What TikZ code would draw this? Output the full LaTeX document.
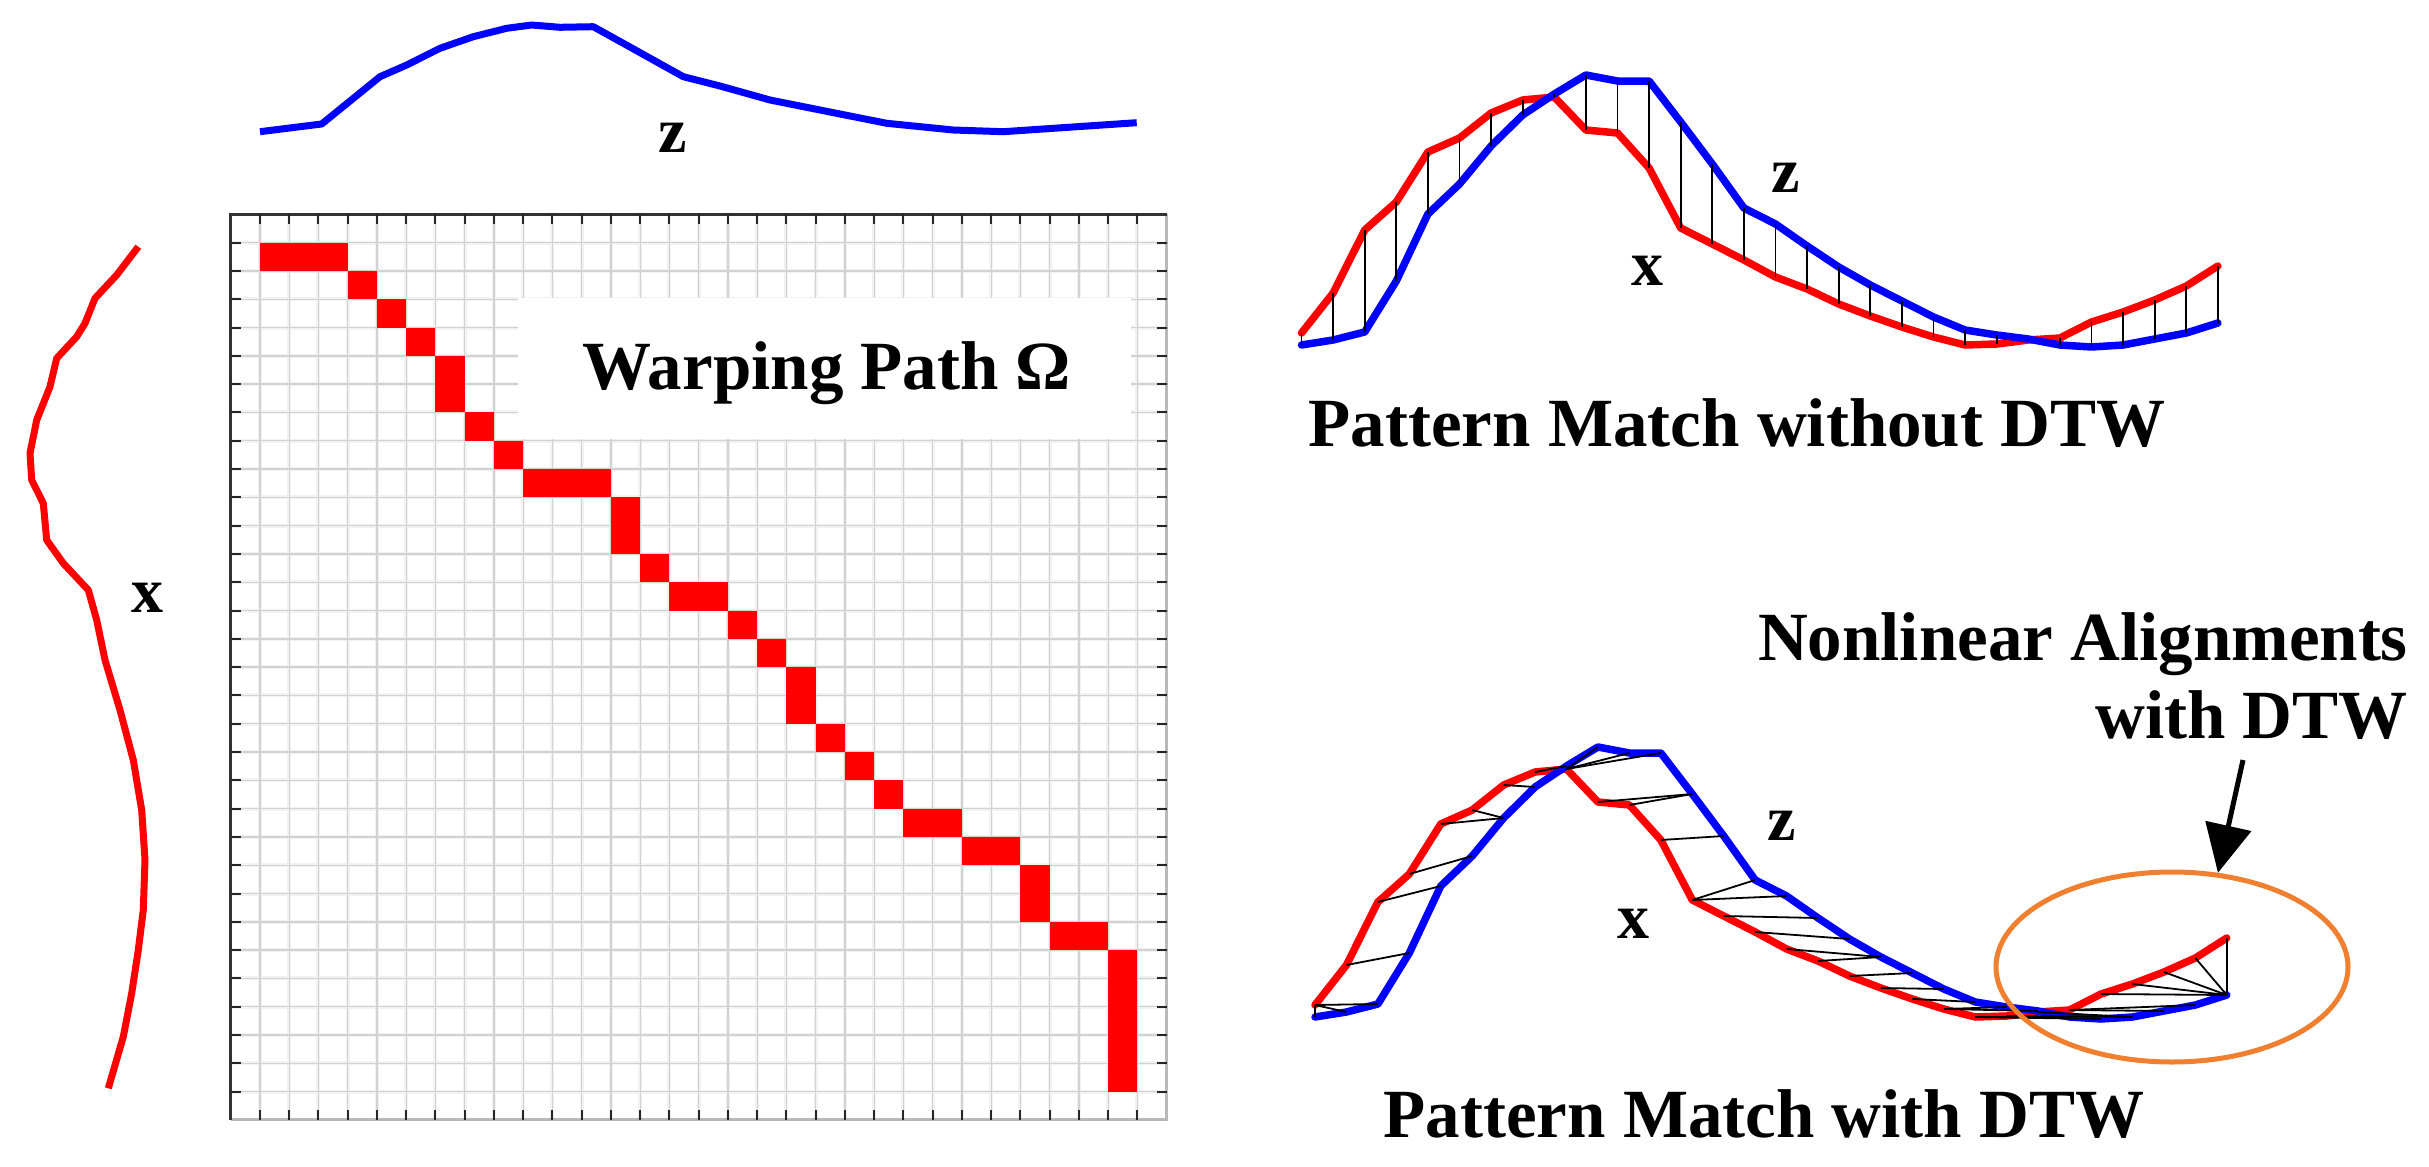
\documentclass[tikz,border=0pt]{standalone}
\usepackage{fontspec}
\setmainfont{Liberation Serif}
\usetikzlibrary{arrows.meta,shapes.geometric}
\definecolor{ored}{RGB}{255,0,0}
\definecolor{oblue}{RGB}{0,0,255}
\definecolor{oorange}{RGB}{240,128,48}
\begin{document}
\begin{tikzpicture}[x=1pt,y=-1pt,
  curve/.style={line width=7.5pt, line join=round, line cap=round},
  redc/.style={curve, draw=ored},
  bluec/.style={curve, draw=oblue},
  sidec/.style={line width=7pt, line join=round, line cap=butt},
  alignln/.style={line width=1.8pt, draw=black},
  lbl/.style={font=\fontsize{69}{78}\selectfont\bfseries, inner sep=0pt},
  slbl/.style={font=\fontsize{64}{72}\selectfont\bfseries, inner sep=0pt},
  tickln/.style={line width=2pt, draw=black!85},
  gridband/.style={line width=4pt, draw=gray!10},
  gridln/.style={line width=1.4pt, draw=gray!35}
  ]
\useasboundingbox (0,0) rectangle (2429,1167);
\fill[white] (0,0) rectangle (2429,1167);

% ---------- grid ----------
\def\gx{230.7}\def\gy{214.3}\def\cw{29.25}\def\ch{28.3}
\def\gw{936}\def\gh{905.6}
\foreach \k in {1,...,31} {
  \draw[gridband] ({\gx+\k*\cw},{\gy}) -- ++(0,\gh);
  \draw[gridband] ({\gx},{\gy+\k*\ch}) -- ++(\gw,0);
}
\foreach \k in {1,...,31} {
  \draw[gridln] ({\gx+\k*\cw},{\gy}) -- ++(0,\gh);
  \draw[gridln] ({\gx},{\gy+\k*\ch}) -- ++(\gw,0);
}

% ---------- warping path cells (row / first col / last col) ----------
\def\pathcells{1/1/3, 2/4/4, 3/5/5, 4/6/6, 5/7/7, 6/7/7, 7/8/8, 8/9/9, 9/10/12, 10/13/13, 11/13/13, 12/14/14, 13/15/16, 14/17/17, 15/18/18, 16/19/19, 17/19/19, 18/20/20, 19/21/21, 20/22/22, 21/23/24, 22/25/26, 23/27/27, 24/27/27, 25/28/29, 26/30/30, 27/30/30, 28/30/30, 29/30/30, 30/30/30}
\foreach \r/\ca/\cb in \pathcells {
  \fill[ored] ({\gx+\ca*\cw},{\gy+\r*\ch}) rectangle ({\gx+(\cb+1)*\cw},{\gy+(\r+1)*\ch});
}

% ---------- label box ----------
\node[fill=white, minimum width=613pt, minimum height=141pt, inner sep=0pt] (wbox) at (824.5,368.5) {};
\node[lbl, anchor=base] (wtext) at (827,389) {Warping Path Ω};

% ---------- frame and ticks ----------
\draw[line width=3pt, draw=gray!55] ({\gx+\gw},{\gy}) -- ++(0,\gh) -- ++(-\gw,0);
\draw[line width=3pt, draw=black!80] ({\gx},{\gy+\gh}) -- ++(0,-\gh) -- ++(\gw,0);
\foreach \k in {1,...,31} {
  \draw[tickln] ({\gx+\k*\cw},{\gy}) -- ++(0,10);
  \draw[tickln] ({\gx+\k*\cw},{\gy+\gh}) -- ++(0,-10);
  \draw[tickln] ({\gx},{\gy+\k*\ch}) -- ++(10,0);
  \draw[tickln] ({\gx+\gw},{\gy+\k*\ch}) -- ++(-10,0);
}

% ---------- side signals ----------
\draw[sidec, draw=oblue] (260,131.7) -- (321.7,124) -- (380,76.7) -- (406.7,65) -- (440,48.3) -- (473.3,36.7) -- (506.7,28.3) -- (531.7,25) -- (560,27.3) -- (593.3,26.7) -- (623.3,43.3) -- (653.3,60) -- (683.3,76.7) -- (720,86) -- (770,100) -- (820,110) -- (886.7,123.3) -- (953.3,130) -- (1003.3,131.7) -- (1053.3,128.3) -- (1136.7,122.7);
\node[slbl, anchor=base] (zlab) at (673,152) {z};

\draw[sidec, draw=ored] (138.3,246.7) -- (116.7,275) -- (95,298.3) -- (85,323.3) -- (76.7,336.7) -- (56.7,358.3) -- (50,386.7) -- (36.7,420) -- (30,453.3) -- (31.7,480) -- (43.3,503.3) -- (46.7,540) -- (63.3,563.3) -- (88.3,590) -- (96.7,620) -- (105,660) -- (120,710) -- (133.3,760) -- (141.7,810) -- (145,860) -- (143.3,910) -- (138.3,950) -- (131.7,993.3) -- (123.3,1036.7) -- (108.3,1088.3);
\node[slbl, anchor=base] (xlab) at (147,612) {x};

% ---------- right-hand signals ----------
\def\redY{333,293,230,202,152,138,113,100,97,130,133,168,228,244,260,277,289,304,316,327,337,345,344,340,338,322,312,300,286,266}
\def\bluY{345,340,332,281,214,184,146,115,94,75,81,81,122,164,208,224,246,267,285,301,317,330,335,339,345,347,345,339,333,323}
\foreach \v [count=\n from 0] in \redY {
  \coordinate (tx\n) at ({1301.5+31.6*\n},{\v});
  \coordinate (bx\n) at ({1315+31.44*\n},{\v+672});
}
\foreach \v [count=\n from 0] in \bluY {
  \coordinate (tz\n) at ({1301.5+31.6*\n},{\v});
  \coordinate (bz\n) at ({1315+31.44*\n},{\v+672});
}

% top: without DTW
\draw[redc] (tx0) \foreach \n in {1,...,29} { -- (tx\n) };
\draw[bluec] (tz0) \foreach \n in {1,...,29} { -- (tz\n) };
\foreach \n in {0,...,29} { \draw[alignln] (tx\n) -- (tz\n); }
\node[slbl, anchor=base] (tzl) at (1786,192) {z};
\node[slbl, anchor=base] (txl) at (1647,285) {x};
\node[lbl, anchor=base] (cap1) at (1737,446) {Pattern Match without DTW};

% bottom: with DTW
\draw[redc] (bx0) \foreach \n in {1,...,29} { -- (bx\n) };
\draw[bluec] (bz0) \foreach \n in {1,...,29} { -- (bz\n) };
\foreach \r/\ca/\cb in \pathcells {
  \foreach \c in {\ca,...,\cb} {
    \pgfmathtruncatemacro\ii{\r-1}
    \pgfmathtruncatemacro\jj{\c-1}
    \draw[alignln] (bx\ii) -- (bz\jj);
  }
}
\node[slbl, anchor=base] (bzl) at (1782,840) {z};
\node[slbl, anchor=base] (bxl) at (1633,938) {x};
\node[lbl, anchor=base] (cap2) at (1764,1137) {Pattern Match with DTW};

% ---------- annotation ----------
\node[ellipse, draw=oorange, line width=5pt, minimum width=352pt, minimum height=190pt, inner sep=0pt] (ell) at (2172,967) {};
\node[lbl, anchor=base east] (nl1) at (2408,660) {Nonlinear Alignments};
\node[lbl, anchor=base east] (nl2) at (2408,738) {with DTW};
\coordinate (atail) at (2243,760);
\draw[line width=5pt, -{Triangle[length=48pt,width=46pt]}] (atail) -- (ell.64);
\end{tikzpicture}
\end{document}
